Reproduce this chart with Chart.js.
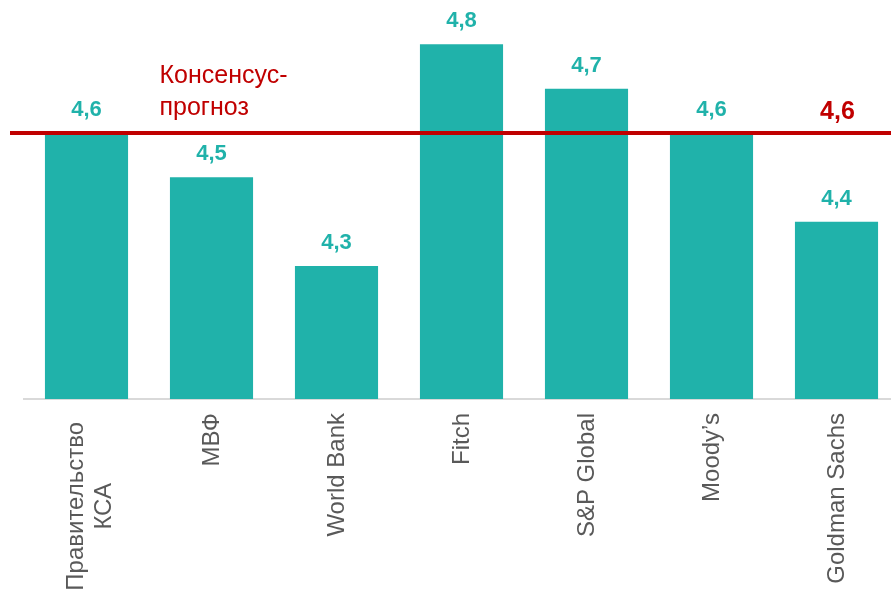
<!DOCTYPE html>
<html>
<head>
<meta charset="utf-8">
<script src="https://cdn.jsdelivr.net/npm/chart.js@4"></script>
<style>
   html, body { margin: 0; padding: 0; background: #fff; overflow: hidden; }
   #wrap { width: 900px; height: 590px; }
</style>
</head>
<body>
<div id="wrap"><canvas id="myChart" width="900" height="590"></canvas></div>
<script>
const categories = [['Правительство', 'КСА'], 'МВФ', 'World Bank', 'Fitch', 'S&P Global', 'Moody’s', 'Goldman Sachs'];
const forecasts = [4.6, 4.5, 4.3, 4.8, 4.7, 4.6, 4.4];
const consensus = 4.6;
const consensusLabel = ['Консенсус-', 'прогноз'];
const yRange = [4.0, 4.9];

const teal = 'rgb(32, 178, 170)';
const red = '#C00000';
const gray = '#595959';

const fmt = (v) => v.toFixed(1).replace('.', ',');

const labelsPlugin = {
   id: 'labelsPlugin',
   afterDatasetsDraw(chart) {
      const ctx = chart.ctx;
      const x = chart.scales.x;
      const y = chart.scales.y;
      const meta = chart.getDatasetMeta(0);

      ctx.save();
      ctx.textAlign = 'center';
      ctx.textBaseline = 'alphabetic';
      ctx.fillStyle = teal;
      ctx.font = 'bold 22px "Liberation Sans", Arial, sans-serif';
      meta.data.forEach((bar, i) => {
         ctx.fillText(fmt(forecasts[i]), bar.x, bar.y - 17);
      });

      const lineY = y.getPixelForValue(consensus);
      ctx.strokeStyle = red;
      ctx.lineWidth = 4;
      ctx.beginPath();
      ctx.moveTo(10, lineY);
      ctx.lineTo(chart.width, lineY);
      ctx.stroke();

      ctx.fillStyle = red;
      ctx.font = 'bold 25px "Liberation Sans", Arial, sans-serif';
      ctx.fillText(fmt(consensus), x.getPixelForValue(categories.length - 1) + 1, lineY - 14);

      ctx.textAlign = 'left';
      ctx.font = '25px "Liberation Sans", Arial, sans-serif';
      ctx.fillText(consensusLabel[0], x.getPixelForValue(1) - 52, lineY - 50);
      ctx.fillText(consensusLabel[1], x.getPixelForValue(1) - 52, lineY - 18.5);

      ctx.fillStyle = gray;
      ctx.font = '24px "Liberation Sans", Arial, sans-serif';
      ctx.textBaseline = 'middle';
      categories.forEach((cat, i) => {
         const lines = Array.isArray(cat) ? cat : [cat];
         const widest = Math.max(...lines.map(l => ctx.measureText(l).width));
         const start = x.top + 14 + (lines.length > 1 ? 9 : 0);
         const cx = x.getPixelForValue(i);
         ctx.save();
         ctx.translate(cx, start + widest / 2);
         ctx.rotate(-Math.PI / 2);
         ctx.textAlign = 'center';
         lines.forEach((l, j) => {
            const off = (j - (lines.length - 1) / 2) * 28 + (lines.length > 1 ? 4 : 1);
            ctx.fillText(l, 0, off);
         });
         ctx.restore();
      });
      ctx.restore();
   }
};

const data = {
   labels: categories,
   datasets: [{
      data: forecasts,
      backgroundColor: teal,
      borderWidth: 0,
      categoryPercentage: 1,
      barPercentage: 0.665
   }]
};

const config = {
   type: 'bar',
   data: data,
   options: {
      responsive: false,
      animation: false,
      layout: { padding: { left: 24, right: 1, top: 0, bottom: 0 } },
      plugins: { legend: { display: false }, tooltip: { enabled: false } },
      scales: {
         x: {
            grid: { display: false },
            border: { display: true, color: '#D9D9D9', width: 2 },
            ticks: { display: false },
            afterFit: (scale) => { scale.height = 191; }
         },
         y: {
            display: false,
            min: yRange[0],
            max: yRange[1]
         }
      }
   },
   plugins: [labelsPlugin]
};

var ctx = document.getElementById('myChart').getContext('2d');
var myChart = new Chart(ctx, config);
</script>
</body>
</html>
